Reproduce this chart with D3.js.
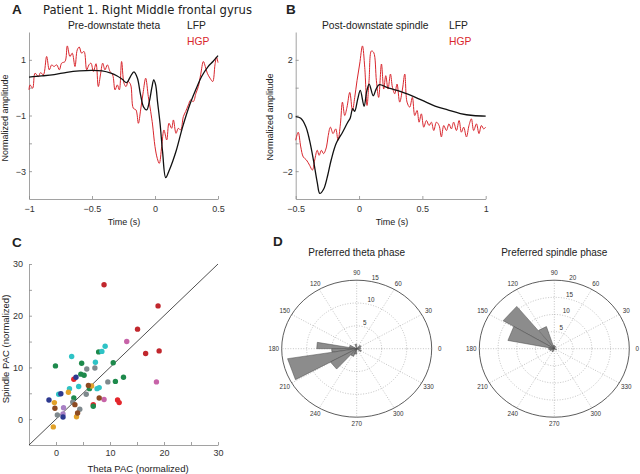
<!DOCTYPE html>
<html>
<head>
<meta charset="utf-8">
<script src="https://cdn.jsdelivr.net/npm/d3@7"></script>
<style>
body { margin: 0; background: #fff; }
svg text { font-family: "Liberation Sans", Arial, sans-serif; fill: #222; }
.axis path, .axis line { stroke: #8a8a8a; stroke-width: 0.8; }
.axis text { fill: #333; }
.tiny { opacity: 0.99; }
</style>
</head>
<body>
<svg id="fig" width="640" height="474"></svg>
<script>
// Panel A: pre-downstate theta (time in s, normalized amplitude)
var preLfpTime = [-1.0, -0.9, -0.8, -0.7, -0.6, -0.5, -0.42, -0.35, -0.3, -0.26, -0.225, -0.195, -0.167, -0.14, -0.115, -0.09, -0.066, -0.045, -0.025, -0.01, 0.005, 0.02, 0.04, 0.06, 0.085, 0.11, 0.14, 0.17, 0.22, 0.28, 0.33, 0.37, 0.42, 0.46, 0.5];
var preLfpAmp = [0.38, 0.42, 0.47, 0.55, 0.6, 0.62, 0.6, 0.52, 0.42, 0.3, 0.18, 0.4, 0.57, 0.35, -0.25, -0.7, -0.8, -0.5, 0.0, 0.28, 0.1, -0.5, -1.28, -2.3, -3.23, -3.0, -2.65, -2.24, -1.4, -0.56, 0.0, 0.4, 0.75, 0.94, 1.15];
var preHgpTime = [-1.0, -0.992, -0.971, -0.952, -0.926, -0.908, -0.886, -0.86, -0.839, -0.82, -0.802, -0.78, -0.759, -0.741, -0.714, -0.696, -0.675, -0.657, -0.635, -0.617, -0.601, -0.583, -0.563, -0.542, -0.524, -0.508, -0.489, -0.468, -0.45, -0.431, -0.415, -0.397, -0.378, -0.357, -0.336, -0.317, -0.299, -0.283, -0.265, -0.246, -0.23, -0.212, -0.193, -0.172, -0.151, -0.132, -0.114, -0.093, -0.074, -0.053, -0.034, -0.019, 0.0, 0.018, 0.034, 0.053, 0.071, 0.093, 0.111, 0.132, 0.146, 0.167, 0.185, 0.204, 0.225, 0.243, 0.265, 0.283, 0.304, 0.325, 0.344, 0.362, 0.384, 0.399, 0.415, 0.437, 0.458, 0.476, 0.488, 0.5];
var preHgpAmp = [-0.08, 0.1, -0.02, 0.52, 0.4, 0.54, 0.46, 1.12, 0.64, 0.82, 0.76, 0.82, 0.64, 0.88, 0.94, 1.5, 1.12, 1.24, 0.76, 1.36, 1.46, 1.24, 1.3, 0.64, 0.82, 0.88, 0.58, 0.86, 0.04, 0.52, 0.88, 0.64, 0.82, 0.58, 0.46, -0.08, 0.1, -0.08, 0.94, 0.16, 0.04, 0.22, 0.1, -0.74, -0.8, -1.28, -0.8, -0.14, 0.34, -0.32, -0.86, -1.34, -2.12, -2.54, -2.72, -2.12, -1.52, -1.88, -1.28, -1.46, -1.16, -1.64, -1.46, -1.52, -1.04, -0.86, -0.62, -0.44, -0.5, -0.2, 0.04, 0.46, 0.94, 0.76, 0.52, 0.34, 0.22, 0.82, 1.1, 0.9];

// Panel B: post-downstate spindle
var postLfpTime = [-0.5, -0.46, -0.42, -0.39, -0.36, -0.33, -0.31, -0.28, -0.25, -0.22, -0.18, -0.13, -0.09, -0.07, -0.05, -0.035, -0.01, 0.01, 0.04, 0.06, 0.08, 0.112, 0.135, 0.16, 0.22, 0.3, 0.4, 0.5, 0.6, 0.7, 0.8, 0.9, 1.0];
var postLfpAmp = [-0.04, -0.1, -0.4, -0.9, -1.6, -2.4, -2.8, -2.65, -2.2, -1.6, -1.0, -0.6, -0.25, -0.1, 0.25, 0.15, 0.6, 0.9, 0.33, 0.85, 1.13, 0.71, 0.95, 1.11, 1.01, 0.9, 0.74, 0.54, 0.34, 0.2, 0.07, 0.0, -0.02];
var postHgpTime = [-0.5, -0.48, -0.46, -0.44, -0.415, -0.39, -0.368, -0.35, -0.33, -0.315, -0.297, -0.28, -0.257, -0.245, -0.226, -0.205, -0.184, -0.166, -0.147, -0.131, -0.113, -0.095, -0.073, -0.052, -0.034, -0.016, 0.005, 0.027, 0.045, 0.063, 0.079, 0.098, 0.116, 0.137, 0.155, 0.177, 0.195, 0.211, 0.229, 0.248, 0.264, 0.282, 0.3, 0.321, 0.343, 0.361, 0.379, 0.4, 0.421, 0.44, 0.458, 0.474, 0.492, 0.511, 0.532, 0.553, 0.571, 0.59, 0.611, 0.632, 0.65, 0.669, 0.69, 0.71, 0.729, 0.747, 0.769, 0.79, 0.808, 0.826, 0.848, 0.868, 0.887, 0.905, 0.927, 0.947, 0.966, 0.984, 1.0];
var postHgpAmp = [-0.89, -0.6, -1.13, -1.49, -1.6, -1.79, -1.96, -1.6, -1.25, -1.43, -1.25, -1.37, -1.13, -0.77, -0.42, -0.65, -0.48, -0.89, -0.3, 0.48, 0.0, 0.3, 0.83, 0.18, 0.65, 1.25, 1.85, 2.5, 1.73, 0.36, 1.25, 2.32, 2.26, 1.25, 0.65, 1.85, 0.95, 1.43, 0.95, 1.49, 1.01, 0.78, 1.13, 0.48, 0.95, 1.49, 0.48, 0.3, 0.65, 0.0, 0.18, -0.24, 0.06, -0.42, -0.18, -0.36, -0.24, -0.54, -0.24, -0.36, -0.77, -0.36, -0.54, -0.3, -0.48, -0.24, -0.54, -0.18, -0.6, -0.42, -0.77, -0.36, -0.12, -0.54, -0.3, -0.65, -0.36, -0.48, -0.42];

// Panel C: PAC per electrode, grouped by subject
var subjectColors = ["#c1272d", "#e3262c", "#c763a8", "#a880c4", "#1e8a4c", "#2ec3c6", "#7f898d", "#2e3a90", "#e2a22a", "#8c4a22"];
var pacSubject = [0,0,0,0,0, 1,1,1,1, 2,2,2, 3,3, 4,4,4,4,4,4,4,4,4,4,4, 5,5,5,5,5,5,5,5,5, 6,6,6,6,6,6,6, 7,7,7,7, 8,8,8,8,8, 9,9,9,9,9];
var pacTheta = [8.9, 18.9, 15.1, 19.1, 16.6, 11.4, 11.7, 6.9, 3.3, 13.1, 18.6, 8.9, 1.4, 1.3, -0.1, 4.75, 7.9, 10.6, 12.5, 11.0, 4.6, 5.2, 6.2, 3.3, 6.9, 2.9, 8.5, 9.1, 7.3, 4.2, 2.5, 0.5, 8.0, 7.6, 5.7, 7.2, 9.6, 5.6, 4.4, 0.25, 3.1, 3.7, -1.3, 0.9, 1.3, 2.3, -0.3, -0.5, 3.8, 6.6, -0.2, 3.5, 4.0, 8.0, 6.0];
var pacSpindle = [26.0, 21.9, 17.4, 13.2, 12.7, 3.7, 3.2, 2.8, 7.7, 15.0, 7.2, 3.8, 2.2, 1.0, 10.3, 10.8, 13.0, 10.9, 8.1, 7.3, 8.7, 8.5, 5.9, 4.1, 2.5, 12.1, 13.1, 14.1, 11.0, 6.3, 5.9, 4.8, 6.1, 5.9, 9.7, 9.9, 7.2, 4.8, 1.9, 0.8, 3.3, 8.1, 3.7, 4.9, 0.4, 5.2, 3.2, -1.5, 0.45, 6.4, 2.1, 2.8, 1.2, 4.1, 6.5];

// Panel D: preferred phase histograms (bin edges in degrees, counts)
var thetaBinStart = [170, 180, 189, 209, 150, 30, 230, 250, 320, 0, 90];
var thetaBinEnd = [180, 189, 209, 228, 170, 50, 250, 270, 340, 20, 110];
var thetaCount = [8, 5, 14, 6, 1.5, 1, 1.8, 1.2, 1, 0.8, 1];
var spindleBinStart = [108, 129, 149, 169, 189, 89, 60, 230, 330];
var spindleBinEnd = [128, 149, 169, 189, 209, 108, 80, 250, 350];
var spindleCount = [6.8, 15.9, 12.6, 1.5, 1.2, 1, 0.7, 1, 0.6];

var svg = d3.select("#fig");

function label(x, y, txt, size, opts) {
    opts = opts || {};
    var t = svg.append("text")
        .attr("x", x).attr("y", y)
        .style("font-size", size + "px")
        .attr("text-anchor", opts.anchor || "start")
        .text(txt);
    if (opts.bold) t.style("font-weight", "bold");
    if (opts.color) t.style("fill", opts.color);
    if (opts.family) t.style("font-family", opts.family);
    if (opts.cls) t.attr("class", opts.cls);
    if (opts.rotate) t.attr("transform", "rotate(-90," + x + "," + y + ")");
    return t;
}

function axes(x, y, xTicks, xLabeled, yTicks, yLabeled, xPad, yPad) {
    var xAxis = d3.axisBottom(x).tickValues(xTicks).tickSizeInner(-3).tickSizeOuter(0).tickPadding(xPad)
        .tickFormat(function(d) { return xLabeled.indexOf(d) >= 0 ? d3.format("")(d) : ""; });
    var yAxis = d3.axisLeft(y).tickValues(yTicks).tickSizeInner(-3).tickSizeOuter(0).tickPadding(yPad)
        .tickFormat(function(d) { return yLabeled.indexOf(d) >= 0 ? d3.format("")(d) : ""; });
    svg.append("g").attr("class", "axis")
        .attr("transform", "translate(0," + y.range()[0] + ")")
        .call(xAxis).selectAll("text").style("font-size", "9px");
    svg.append("g").attr("class", "axis")
        .attr("transform", "translate(" + x.range()[0] + ",0)")
        .call(yAxis).selectAll("text").style("font-size", "9px");
    svg.selectAll(".axis .domain").attr("fill", "none");
}

function trace(x, y, ts, vs, color, width) {
    var line = d3.line()
        .x(function(d, i) { return x(ts[i]); })
        .y(function(d, i) { return y(vs[i]); })
        .curve(d3.curveCatmullRom.alpha(0.5));
    svg.append("path")
        .datum(vs)
        .attr("d", line)
        .attr("fill", "none")
        .attr("stroke", color)
        .attr("stroke-width", width)
        .attr("stroke-linejoin", "round");
}

// ---- Title and panel A
label(12, 14, "A", 13.5, {bold: true});
label(43, 14, "Patient 1. Right Middle frontal gyrus", 11.6, {family: "DejaVu Sans"});

var xA = d3.scaleLinear().domain([-1, 0.5]).range([29, 218]);
var yA = d3.scaleLinear().domain([-4, 2]).range([199, 32]);
axes(xA, yA, [-1, -0.5, 0, 0.5], [-1, -0.5, 0, 0.5], [-3, -2, -1, 0, 1], [-3, -1, 1], 7, 3);
trace(xA, yA, preHgpTime, preHgpAmp, "#d9262d", 1);
trace(xA, yA, preLfpTime, preLfpAmp, "#111", 1.3);
label(68, 29, "Pre-downstate theta", 10.3);
label(187, 29, "LFP", 10.3);
label(187, 45, "HGP", 10.3, {color: "#d9262d"});
label(124, 225, "Time (s)", 9, {anchor: "middle"});
label(8, 118, "Normalized amplitude", 9, {anchor: "middle", rotate: true});

// ---- Panel B
label(286, 14, "B", 13.5, {bold: true});
var xB = d3.scaleLinear().domain([-0.5, 1]).range([295.7, 485.7]);
var yB = d3.scaleLinear().domain([-3, 3]).range([199, 32]);
axes(xB, yB, [-0.5, 0, 0.5, 1], [-0.5, 0, 0.5, 1], [-2, -1, 0, 1, 2], [-2, 0, 2], 7, 3);
trace(xB, yB, postHgpTime, postHgpAmp, "#d9262d", 1);
trace(xB, yB, postLfpTime, postLfpAmp, "#111", 1.3);
label(322, 29, "Post-downstate spindle", 10.3);
label(449, 29, "LFP", 10.3);
label(449, 45, "HGP", 10.3, {color: "#d9262d"});
label(392, 225, "Time (s)", 9, {anchor: "middle"});
label(273, 117, "Normalized amplitude", 9, {anchor: "middle", rotate: true});

// ---- Panel C
label(12, 247, "C", 13.5, {bold: true});
var xC = d3.scaleLinear().domain([-5, 30]).range([29, 218]);
var yC = d3.scaleLinear().domain([-5, 30]).range([445, 264]);
axes(xC, yC, [0, 5, 10, 15, 20, 25, 30], [0, 10, 20, 30], [0, 5, 10, 15, 20, 25, 30], [0, 10, 20, 30], 5, 6);
svg.append("line")
    .attr("x1", xC(-5)).attr("y1", yC(-5))
    .attr("x2", xC(30)).attr("y2", yC(30))
    .attr("stroke", "#222").attr("stroke-width", 0.8);
svg.append("g").selectAll("circle")
    .data(pacTheta)
    .enter().append("circle")
    .attr("cx", function(d) { return xC(d); })
    .attr("cy", function(d, i) { return yC(pacSpindle[i]); })
    .attr("r", 2.7)
    .attr("fill", function(d, i) { return subjectColors[pacSubject[i]]; });
label(138, 472, "Theta PAC (normalized)", 9.5, {anchor: "middle"});
label(9, 349, "Spindle PAC (normalized)", 9.5, {anchor: "middle", rotate: true});

// ---- Panel D
label(273, 246, "D", 13.5, {bold: true});

function polar(cx, cy, rmax, rings, starts, ends, counts, title) {
    var RX = 75, RY = 68.5;
    var r = d3.scaleLinear().domain([0, rmax]).range([0, 1]);
    var rad = function(a) { return a * Math.PI / 180; };
    var pt = function(a, v) {
        return [cx + RX * r(v) * Math.cos(rad(a)), cy - RY * r(v) * Math.sin(rad(a))];
    };
    var g = svg.append("g");
    // spokes
    d3.range(0, 180, 30).forEach(function(a) {
        var p1 = pt(a, rmax), p2 = pt(a + 180, rmax);
        g.append("line").attr("x1", p1[0]).attr("y1", p1[1]).attr("x2", p2[0]).attr("y2", p2[1])
            .attr("stroke", "#9a9a9a").attr("stroke-width", 0.6).attr("stroke-dasharray", "1,1.6");
    });
    rings.forEach(function(v) {
        if (v === rmax) return;
        g.append("ellipse").attr("cx", cx).attr("cy", cy)
            .attr("rx", RX * r(v)).attr("ry", RY * r(v))
            .attr("fill", "none").attr("stroke", "#9a9a9a").attr("stroke-width", 0.6)
            .attr("stroke-dasharray", "1,1.6");
    });
    g.append("ellipse").attr("cx", cx).attr("cy", cy).attr("rx", RX).attr("ry", RY)
        .attr("fill", "none").attr("stroke", "#333").attr("stroke-width", 0.8);
    // wedges
    g.selectAll("path.wedge")
        .data(counts)
        .enter().append("path")
        .attr("class", "wedge")
        .attr("d", function(d, i) {
            return d3.line()([[cx, cy], pt(starts[i], d), pt(ends[i], d), [cx, cy]]);
        })
        .attr("fill", "#8c8c8c")
        .attr("stroke", "#4a4a4a")
        .attr("stroke-width", 0.5)
        .attr("stroke-linejoin", "round");
    // angle labels
    d3.range(0, 360, 30).forEach(function(a) {
        var x = cx + (RX + 8) * Math.cos(rad(a));
        var y = cy - (RY + 7) * Math.sin(rad(a)) + 2.2;
        label(x, y, String(a), 6.3, {anchor: "middle", color: "#333", cls: "tiny"});
    });
    // ring labels
    rings.forEach(function(v) {
        var p = pt(80, v);
        label(p[0] + 2, p[1] - 1.5, String(v), 6.3, {color: "#333", cls: "tiny"});
    });
    label(cx, 256, title, 10, {anchor: "middle"});
}

polar(356.7, 348.7, 15, [5, 10, 15], thetaBinStart, thetaBinEnd, thetaCount, "Preferred theta phase");
polar(554.3, 348.7, 20, [5, 10, 15, 20], spindleBinStart, spindleBinEnd, spindleCount, "Preferred spindle phase");
</script>
</body>
</html>
